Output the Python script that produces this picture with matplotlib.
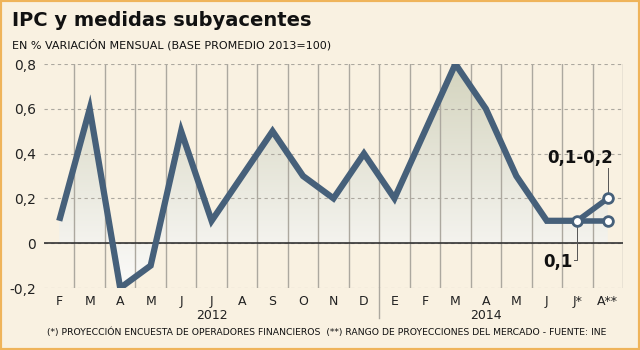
import numpy as np
import matplotlib.pyplot as plt
from matplotlib.colors import LinearSegmentedColormap
from matplotlib.patches import Rectangle

meses = ['F', 'M', 'A', 'M', 'J', 'J', 'A', 'S', 'O', 'N', 'D',
         'E', 'F', 'M', 'A', 'M', 'J', 'J*', 'A**']
ipc = [0.1, 0.6, -0.2, -0.1, 0.5, 0.1, 0.3, 0.5, 0.3, 0.2, 0.4,
       0.2, 0.5, 0.8, 0.6, 0.3, 0.1, 0.1, 0.2]
ipc_bajo = 0.1          # rango bajo para A**
yticks = [-0.2, 0, 0.2, 0.4, 0.6, 0.8]
ytick_labels = ['-0,2', '0', '0,2', '0,4', '0,6', '0,8']
anios = [(5, '2012'), (14, '2014')]

bg = '#f9f1e1'
linea = '#46607a'

fig = plt.figure(figsize=(6.4, 3.5), dpi=100)
fig.patch.set_facecolor(bg)
fig.patches.append(Rectangle((0, 0), 1, 1, transform=fig.transFigure,
                             fill=False, edgecolor='#efb45a', linewidth=3))

ax = fig.add_axes([44 / 640, 1 - 288 / 350, 579 / 640, 224 / 350])
ax.set_facecolor(bg)
x = np.arange(len(meses))
ax.set_xlim(-0.5, len(meses) - 0.5)
ax.set_ylim(-0.2, 0.8)

# relleno con degradado
cmap = LinearSegmentedColormap.from_list(
    'g', [(0, '#fbfbf9'), (0.2, '#f4f3ee'), (1, '#d4d4be')])
grad = np.linspace(0, 1, 256).reshape(-1, 1)
img = ax.imshow(grad, cmap=cmap, origin='lower', aspect='auto',
                extent=(-0.5, len(meses) - 0.5, -0.2, 0.8), zorder=1)
poly = ax.fill_between(x, ipc, 0, facecolor='none', edgecolor='none')
img.set_clip_path(poly.get_paths()[0], transform=ax.transData)

# grilla
for yv in yticks:
    ax.axhline(yv, color='#aca89f', lw=0.8, ls=(0, (3, 3)), zorder=1.5)
for b in np.arange(0.5, len(meses), 1):
    ax.axvline(b, color='#aca89f', lw=1, zorder=1.5)
ax.axhline(0, color='#333333', lw=1.2, zorder=2)
ax.plot([10.5, 10.5], [-0.2, -0.335], color='#aca89f', lw=1, clip_on=False)

# serie
ax.plot(x[:-1], ipc[:-1], color=linea, lw=4.5, solid_joinstyle='miter',
        solid_capstyle='butt', zorder=3)
ax.plot([x[-2], x[-1]], [ipc[-2], ipc[-1]], color=linea, lw=4, zorder=3)
ax.plot([x[-2], x[-1]], [ipc[-2], ipc_bajo], color=linea, lw=4, zorder=3)
ax.plot([x[-2], x[-1], x[-1]], [ipc[-2], ipc[-1], ipc_bajo], 'o',
        ms=7, mfc='white', mec=linea, mew=2, zorder=4)

# anotaciones
ax.plot([x[-1], x[-1]], [ipc[-1], 0.335], color='#555555', lw=0.7, zorder=2)
ax.text(x[-1] - 0.9, 0.34, '0,1-0,2', fontsize=12, fontweight='bold',
        ha='center', va='bottom', color='#111111')
ax.plot([x[-2], x[-2], x[-2] - 0.1], [ipc[-2], -0.075, -0.075],
        color='#555555', lw=0.7, zorder=2)
ax.text(x[-2] - 0.15, -0.085, '0,1', fontsize=12, fontweight='bold',
        ha='right', va='center', color='#111111')

ax.set_xticks(x)
ax.set_xticklabels(meses, fontsize=9)
ax.set_yticks(yticks)
ax.set_yticklabels(ytick_labels, fontsize=10)
ax.tick_params(axis='x', length=0, pad=5, colors='#222222')
ax.tick_params(axis='y', length=0, pad=6, colors='#222222')
for s in ax.spines.values():
    s.set_visible(False)
for pos, txt in anios:
    ax.text(pos, -0.322, txt, fontsize=9, ha='center', va='center',
            transform=ax.transData, color='#222222')

fig.text(12 / 640, 1 - 20 / 350, 'IPC y medidas subyacentes', fontsize=14,
         fontweight='bold', va='center', color='#111111')
fig.text(12 / 640, 1 - 45 / 350, 'EN % VARIACIÓN MENSUAL (BASE PROMEDIO 2013=100)',
         fontsize=8, va='center', color='#111111')
fig.text(0.51, 1 - 332 / 350,
         '(*) PROYECCIÓN ENCUESTA DE OPERADORES FINANCIEROS  (**) RANGO DE PROYECCIONES DEL MERCADO - FUENTE: INE',
         fontsize=6.7, ha='center', va='center', color='#111111')

fig.savefig('out.png', dpi=100, facecolor=bg)
